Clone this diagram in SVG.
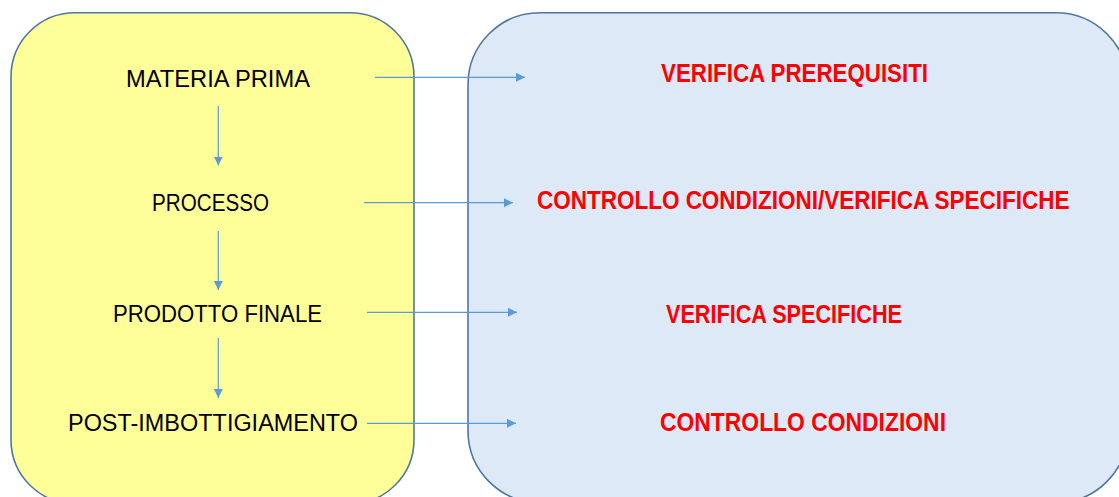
<svg xmlns="http://www.w3.org/2000/svg" width="1119" height="497" viewBox="0 0 1119 497">
<style>
.box{stroke:#4F77A0;stroke-width:1.6}
.lbl{font-family:"Liberation Sans",Arial,sans-serif;font-size:23.5px;fill:#000}
.red{font-family:"Liberation Sans",Arial,sans-serif;font-size:25px;font-weight:bold;fill:#FF0000}
.conn{stroke:#5B9BD5;stroke-width:1.2;fill:none;marker-end:url(#ah)}
</style>
<defs>
<marker id="ah" markerUnits="userSpaceOnUse" markerWidth="10" markerHeight="10" refX="9" refY="4.5" orient="auto">
<path d="M0,0 L9,4.5 L0,9 Z" fill="#5B9BD5"/>
</marker>
</defs>
<rect width="1119" height="497" fill="#FFFFFF"/>
<g id="left-panel">
<rect class="box" x="11" y="12.7" width="403" height="491" rx="64" ry="64" fill="#FFFF99"/>
</g>
<g id="right-panel">
<rect class="box" x="468" y="12.7" width="660" height="490" rx="72" ry="72" fill="#DDE9F6"/>
</g>
<g id="node-materia-prima"><text class="lbl" x="126" y="87" textLength="184" lengthAdjust="spacingAndGlyphs">MATERIA PRIMA</text></g>
<g id="node-processo"><text class="lbl" x="152" y="211" textLength="117" lengthAdjust="spacingAndGlyphs">PROCESSO</text></g>
<g id="node-prodotto-finale"><text class="lbl" x="113" y="322" textLength="209" lengthAdjust="spacingAndGlyphs">PRODOTTO FINALE</text></g>
<g id="node-post-imbottigiamento"><text class="lbl" x="68" y="431" textLength="290" lengthAdjust="spacingAndGlyphs">POST-IMBOTTIGIAMENTO</text></g>
<g id="node-verifica-prerequisiti"><text class="red" x="661" y="81.5" textLength="267" lengthAdjust="spacingAndGlyphs">VERIFICA PREREQUISITI</text></g>
<g id="node-controllo-verifica"><text class="red" transform="translate(537,209) scale(0.9,1)" x="0" y="0">CONTROLLO CONDIZIONI/VERIFICA SPECIFICHE</text></g>
<g id="node-verifica-specifiche"><text class="red" x="666" y="323" textLength="236" lengthAdjust="spacingAndGlyphs">VERIFICA SPECIFICHE</text></g>
<g id="node-controllo-condizioni"><text class="red" x="660" y="431" textLength="286" lengthAdjust="spacingAndGlyphs">CONTROLLO CONDIZIONI</text></g>
<g id="connectors">
<line class="conn" x1="218.3" y1="106" x2="218.3" y2="165.5"/>
<line class="conn" x1="218.3" y1="231" x2="218.3" y2="290"/>
<line class="conn" x1="218.3" y1="338" x2="218.3" y2="398"/>
<line class="conn" x1="375" y1="77.3" x2="525" y2="77.3"/>
<line class="conn" x1="364" y1="202.7" x2="513" y2="202.7"/>
<line class="conn" x1="367" y1="312.3" x2="517" y2="312.3"/>
<line class="conn" x1="367" y1="423.3" x2="516" y2="423.3"/>
</g>
</svg>
